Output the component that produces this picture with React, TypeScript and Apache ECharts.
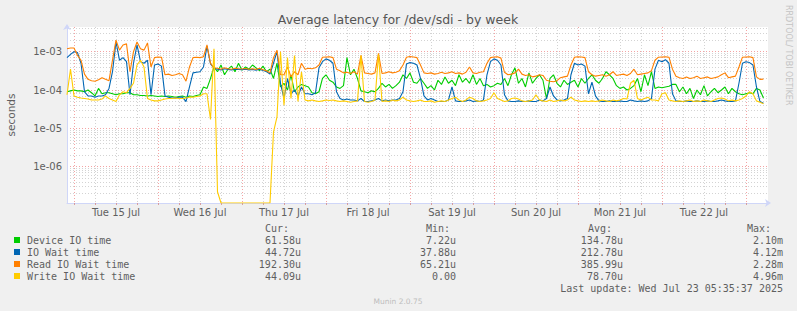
import React, { useEffect, useRef } from 'react';
import * as echarts from 'echarts';

// ---- time sampling (hourly samples) ----
const START_UTC = Date.UTC(2025, 6, 14, 22, 0, 0);
const STEP_MS = 3600 * 1000;
const X_MIN = START_UTC;
const X_MAX = Date.UTC(2025, 6, 23, 6, 18, 0);
const Y_MIN = 1.12e-7;
const Y_MAX = 4.42e-3;

// ---- series values, in microseconds ----
const DEVICE_IO_US = [
  90, 95, 100, 95, 95, 90, 100, 85, 70, 110, 80, 85, 85, 80, 75, 80, 80, 85, 85, 75,
  75, 72, 72, 70, 72, 70, 68, 70, 68, 70, 68, 65, 68, 70,
  65, 70, 68, 72, 75, 120, 110, 200, 400, 300, 450, 250, 350, 420, 300, 500, 330, 400, 350, 450,
  380, 320, 420, 300, 350, 200, 500, 120,
  150, 100, 250, 90, 120,
  140, 130, 120, 85, 80, 90, 200, 250, 180, 160, 120, 110, 130, 700, 250, 350, 200, 95, 90, 85,
  95, 90, 110, 150, 120, 140, 110, 130, 160, 250, 200, 280, 160, 150,
  200, 150, 110, 130, 100, 180, 140, 220, 150, 180, 130, 250, 160, 200, 150, 250, 140, 200, 130, 140,
  120, 130, 150, 140, 200, 130, 250, 380, 150, 200, 120, 280, 150, 200,
  250, 180, 60, 200, 250, 150, 120, 180, 140, 160, 180, 120, 200, 150, 200, 250, 180, 150, 200, 300,
  250, 200, 130, 110, 120, 100, 110, 130, 200, 90, 250, 130, 300,
  110, 120, 115, 120, 125, 140, 140, 90, 120, 80, 110, 60, 100, 75, 130, 70, 90, 110, 85, 100,
  120, 80, 110, 90, 80, 75, 80, 85, 80, 110, 100, 62,
];

const IO_WAIT_US = [
  700, 850, 1000, 950, 500, 90, 70, 70, 65, 70, 70, 75, 110, 300, 1800, 600, 700, 550, 75, 500,
  1500, 550, 500, 600, 75, 450, 480, 420, 70, 65, 62, 62, 65, 65,
  50, 120, 280, 290, 300, 400, 1400, 480, 370, 350, 335, 360, 345, 335, 350, 345, 340, 350, 335, 345,
  330, 350, 325, 305, 260, 500, 1000, 150,
  60, 200, 80, 100, 70,
  120, 80, 80, 75, 85, 380, 550, 650, 600, 500, 90, 60, 55, 58, 55, 55, 52, 60, 50, 50,
  52, 55, 60, 52, 55, 52, 55, 55, 60, 90, 480, 520, 500, 450,
  200, 70, 55, 60, 55, 50, 50, 50, 55, 120, 52, 50, 50, 52, 55, 50, 52, 50, 55, 250,
  550, 650, 600, 450, 75, 52, 50, 50, 52, 50, 50, 52, 50, 50,
  55, 52, 60, 120, 70, 55, 52, 55, 60, 250, 500, 450, 480, 420, 80, 160, 70, 52, 50, 50,
  52, 50, 50, 52, 50, 50, 55, 52, 50, 52, 50, 52, 60,
  350, 600, 550, 620, 500, 80, 52, 50, 50, 52, 50, 50, 52, 50, 50, 52, 50, 50, 52, 55,
  52, 50, 50, 52, 150, 500, 550, 520, 450, 120, 50, 45,
];

const READ_IO_WAIT_US = [
  1200, 1250, 1250, 800, 600, 260, 190, 175, 170, 185, 210, 190, 175, 600, 2000, 1100, 1500, 1600, 300, 1000,
  1800, 1200, 1100, 1700, 400, 700, 730, 720, 250, 260, 240, 250, 270, 250,
  170, 400, 700, 720, 700, 740, 1500, 500, 380, 370, 350, 380, 360, 350, 370, 360, 355, 365, 350, 360,
  345, 370, 340, 320, 280, 700, 1100, 250,
  250, 400, 220, 300, 250,
  500, 350, 370, 360, 380, 450, 720, 730, 740, 700, 350, 320, 280, 290, 270, 300, 260, 800, 280, 270,
  260, 280, 900, 270, 280, 300, 280, 290, 320, 450, 720, 750, 730, 700,
  450, 280, 270, 280, 260, 270, 290, 270, 280, 300, 270, 280, 260, 290, 400, 280, 270, 290, 300, 500,
  700, 730, 740, 680, 290, 250, 260, 280, 350, 260, 240, 250, 220, 230,
  250, 240, 180, 170, 165, 175, 210, 220, 230, 450, 720, 740, 730, 700, 300, 250, 230, 240, 250, 230,
  250, 300, 240, 250, 260, 240, 270, 350, 250, 260, 270, 280, 320,
  600, 720, 730, 740, 720, 350, 230, 210, 200, 220, 200, 210, 230, 200, 210, 220, 200, 210, 220, 250,
  280, 210, 220, 230, 400, 720, 730, 740, 700, 220, 190, 192,
];

const WRITE_IO_WAIT_US = [
  75, 350, 70, 65, 62, 60, 58, 55, 55, 55, 58, 70, 60, 55, 50, 75, 90, 85, 110, 150,
  450, 600, 400, 60, 55, 52, 52, 55, 58, 60, 60, 62, 60, 60,
  62, 65, 65, 68, 70, 80, 80, 17, 1200, 0.22, 0, 0, 0, 0, 0, 0, 0, 0, 0, 0,
  0, 0, 0, 0, 0, 8, 20, 1000,
  40, 700, 60, 800, 50,
  300, 55, 52, 55, 52, 50, 52, 55, 53, 55, 52, 50, 52, 50, 48, 50, 52, 800, 50, 48,
  50, 55, 850, 50, 52, 50, 55, 52, 55, 65, 55, 52, 50, 52,
  55, 50, 50, 52, 48, 50, 52, 50, 55, 60, 65, 55, 50, 55, 65, 60, 52, 50, 52, 55,
  60, 85, 60, 55, 50, 52, 60, 62, 58, 52, 50, 52, 55, 75,
  55, 52, 50, 55, 50, 52, 55, 52, 55, 65, 55, 52, 50, 52, 50, 52, 50, 52, 55, 52,
  50, 55, 52, 55, 60, 58, 150, 180, 60, 55, 60, 65, 55,
  55, 52, 80, 85, 55, 52, 50, 52, 50, 52, 55, 50, 52, 50, 55, 52, 50, 55, 60, 62,
  58, 52, 55, 52, 55, 60, 70, 90, 80, 52, 48, 44,
];

// ---- legend / text ----
const TITLE = 'Average latency for /dev/sdi - by week';
const Y_NAME = 'seconds';
const SERIES_NAMES = ['Device IO time', 'IO Wait time', 'Read IO Wait time', 'Write IO Wait time'];
const SERIES_COLORS = ['#00cc00', '#0066b3', '#ff8000', '#ffcc00'];
const CUR = ['61.58u', '44.72u', '192.30u', '44.09u'];
const MIN = ['7.22u', '37.88u', '65.21u', '0.00'];
const AVG = ['134.78u', '212.78u', '385.99u', '78.70u'];
const MAX = ['2.10m', '4.12m', '2.28m', '4.96m'];
const LAST_UPDATE = 'Last update: Wed Jul 23 05:35:37 2025';
const FOOTER = 'Munin 2.0.75';
const SIDE_TEXT = 'RRDTOOL/ TOBI OETIKER';
const WEEKDAYS = ['Sun', 'Mon', 'Tue', 'Wed', 'Thu', 'Fri', 'Sat'];
const MONTHS = ['Jan', 'Feb', 'Mar', 'Apr', 'May', 'Jun', 'Jul', 'Aug', 'Sep', 'Oct', 'Nov', 'Dec'];
const LABEL_DAYS = [15, 16, 17, 18, 19, 20, 21, 22];
const Y_LABEL_TICKS = [1e-6, 1e-5, 1e-4, 1e-3];

const DAY_LABEL_TIMES = LABEL_DAYS.map((d) => Date.UTC(2025, 6, d, 12, 0, 0));
const X_GRID: number[] = [];
for (let t = Date.UTC(2025, 6, 15, 0, 0, 0); t <= Date.UTC(2025, 6, 23, 0, 0, 0); t += 6 * STEP_MS) X_GRID.push(t);
const Y_GRID: number[] = [];
for (let e = -7; e <= -3; e++) {
  for (let m = 1; m <= 9; m++) {
    const v = Number((m * Math.pow(10, e)).toPrecision(6));
    if (v > Y_MIN && v < Y_MAX) Y_GRID.push(v);
  }
}
const RED_GRID = 'rgba(235,90,90,0.55)';
const GRAY_GRID = 'rgba(150,150,150,0.42)';
const Y_GRID_COLORS = Y_GRID.map((v) => {
  const l = Math.log10(v);
  return Math.abs(l - Math.round(l)) < 1e-6 ? RED_GRID : GRAY_GRID;
});
const X_GRID_COLORS = [RED_GRID, GRAY_GRID, GRAY_GRID, GRAY_GRID];

const toSeries = (arr: number[]) =>
  arr.map((v, i) => [START_UTC + i * STEP_MS, v > 0 ? v * 1e-6 : Y_MIN]);

const FONT = 'DejaVu Sans';
const MONO = 'DejaVu Sans Mono';
const TXT = '#5f5f5f';

function txt(text: string, x: number, y: number, opts: any = {}) {
  const align = opts.align || 'left';
  const va = opts.va || 'middle';
  return {
    type: 'text',
    x,
    y,
    rotation: opts.rotation || 0,
    silent: true,
    style: {
      text,
      fill: opts.color || TXT,
      fontSize: opts.size || 10,
      fontFamily: opts.family || FONT,
      align,
      textAlign: align,
      verticalAlign: va,
      textVerticalAlign: va,
    },
  };
}

export default function App() {
  const ref = useRef<HTMLDivElement>(null);

  useEffect(() => {
    if (!ref.current) return;
    const chart = echarts.init(ref.current, null, { renderer: 'svg' });

    const seriesArrays = [DEVICE_IO_US, IO_WAIT_US, READ_IO_WAIT_US, WRITE_IO_WAIT_US];

    const graphics: any[] = [];
    graphics.push(txt(TITLE, 398, 19, { align: 'center', size: 12.5, color: '#555' }));
    graphics.push(txt(Y_NAME, 11, 115, { align: 'center', size: 10.5, rotation: Math.PI / 2 }));
    graphics.push(txt(SIDE_TEXT, 788, 5, { align: 'left', size: 8, color: '#c4c4c4', rotation: -Math.PI / 2 }));

    const headerY = 228;
    graphics.push(txt('Cur:', 265, headerY, { family: MONO }));
    graphics.push(txt('Min:', 426, headerY, { family: MONO }));
    graphics.push(txt('Avg:', 588, headerY, { family: MONO }));
    graphics.push(txt('Max:', 747, headerY, { family: MONO }));
    SERIES_NAMES.forEach((name, i) => {
      const y = 240 + i * 12;
      graphics.push({
        type: 'rect',
        silent: true,
        shape: { x: 14, y: y - 3, width: 6, height: 6 },
        style: { fill: SERIES_COLORS[i] },
      });
      graphics.push(txt(name, 27, y, { family: MONO }));
      graphics.push(txt(CUR[i], 301, y, { family: MONO, align: 'right' }));
      graphics.push(txt(MIN[i], 456, y, { family: MONO, align: 'right' }));
      graphics.push(txt(AVG[i], 623, y, { family: MONO, align: 'right' }));
      graphics.push(txt(MAX[i], 783, y, { family: MONO, align: 'right' }));
    });
    graphics.push(txt(LAST_UPDATE, 783, 288, { family: MONO, align: 'right' }));
    graphics.push(txt(FOOTER, 398, 301, { align: 'center', size: 7.5, color: '#bdbdbd' }));

    const option: any = {
      animation: false,
      backgroundColor: '#f0f0f0',
      textStyle: { fontFamily: FONT },
      grid: {
        left: 67,
        right: 29,
        top: 27,
        bottom: 108,
        show: true,
        backgroundColor: '#ffffff',
        borderWidth: 0,
      },
      xAxis: {
        type: 'value',
        min: X_MIN,
        max: X_MAX,
        axisLine: {
          show: true,
          onZero: false,
          lineStyle: { color: '#cfd6f8', width: 1 },
          symbol: ['none', 'arrow'],
          symbolSize: [6, 6],
          symbolOffset: [0, 3],
        },
        axisTick: {
          show: true,
          length: 2,
          customValues: X_GRID,
          lineStyle: { color: 'rgba(210,140,140,0.8)' },
        },
        axisLabel: {
          customValues: DAY_LABEL_TIMES,
          color: TXT,
          fontSize: 10,
          fontFamily: FONT,
          margin: 4,
          formatter: (v: number) => {
            const d = new Date(v);
            return `${WEEKDAYS[d.getUTCDay()]} ${d.getUTCDate()} ${MONTHS[d.getUTCMonth()]}`;
          },
        },
        splitLine: {
          show: true,
          lineStyle: { color: X_GRID_COLORS, type: [1, 2], width: 1 },
        },
      },
      yAxis: {
        type: 'log',
        logBase: 10,
        min: Y_MIN,
        max: Y_MAX,
        axisLine: {
          show: true,
          onZero: false,
          lineStyle: { color: '#cfd6f8', width: 1 },
          symbol: ['none', 'arrow'],
          symbolSize: [6, 6],
          symbolOffset: [0, 3],
        },
        axisTick: { show: false, customValues: Y_GRID },
        axisLabel: {
          customValues: Y_LABEL_TICKS,
          color: TXT,
          fontSize: 10,
          fontFamily: FONT,
          margin: 5,
          formatter: (v: number) => {
            const e = Math.round(Math.log10(v));
            return '1e' + (e < 0 ? '-' : '+') + String(Math.abs(e)).padStart(2, '0');
          },
        },
        splitLine: {
          show: true,
          lineStyle: { color: Y_GRID_COLORS, type: [1, 2], width: 1 },
        },
        minorSplitLine: { show: false },
      },
      series: seriesArrays.map((arr, i) => ({
        name: SERIES_NAMES[i],
        type: 'line',
        data: toSeries(arr),
        showSymbol: false,
        symbol: 'none',
        lineStyle: { color: SERIES_COLORS[i], width: 1.1 },
        itemStyle: { color: SERIES_COLORS[i] },
        emphasis: { disabled: true },
        z: 3 + i,
      })),
      graphic: { elements: graphics },
    };

    chart.setOption(option);
    return () => {
      chart.dispose();
    };
  }, []);

  return (
    <div
      ref={ref}
      style={{ position: 'absolute', left: 0, top: 0, width: 797, height: 311 }}
    />
  );
}
